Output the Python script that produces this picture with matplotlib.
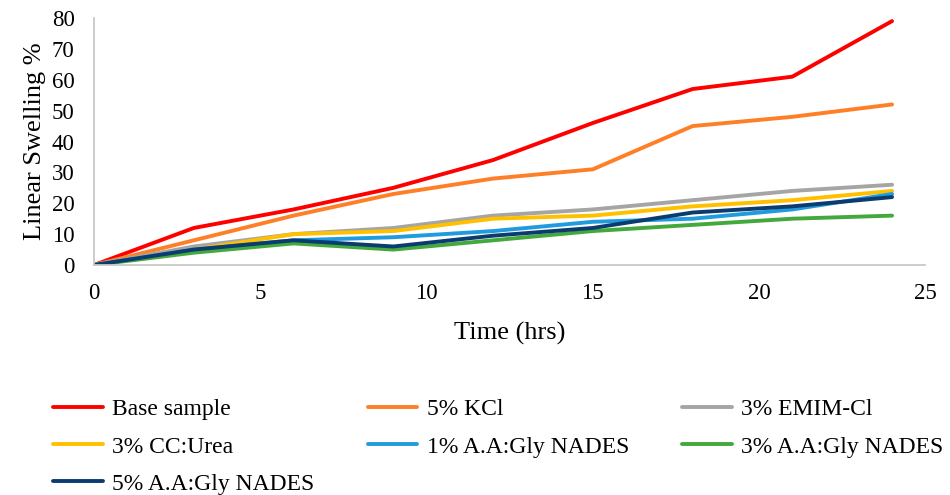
import matplotlib

matplotlib.use("Agg")
import matplotlib.pyplot as plt

plt.rcParams["font.family"] = ["Liberation Serif", "DejaVu Serif"]

# --- данные ---
hours = [0, 3, 6, 9, 12, 15, 18, 21, 24]
base_sample = [0, 12, 18, 25, 34, 46, 57, 61, 79]
kcl_5 = [0, 8, 16, 23, 28, 31, 45, 48, 52]
emim_3 = [0, 6, 10, 12, 16, 18, 21, 24, 26]
cc_urea_3 = [0, 5, 10, 11, 15, 16, 19, 21, 24]
nades_1 = [0, 5, 8, 9, 11, 14, 15, 18, 23]
nades_3 = [0, 4, 7, 5, 8, 11, 13, 15, 16]
nades_5 = [0, 5, 8, 6, 9.5, 12, 17, 19, 22]

labels = ["Base sample", "5% KCl", "3% EMIM-Cl", "3% CC:Urea",
          "1% A.A:Gly NADES", "3% A.A:Gly NADES", "5% A.A:Gly NADES"]
series = [base_sample, kcl_5, emim_3, cc_urea_3, nades_1, nades_3, nades_5]
colors = ["#ff0000", "#ff7f27", "#a5a5a5", "#ffc000",
          "#1f9bde", "#43a93c", "#0b3c70"]

fig = plt.figure(figsize=(9.5, 4.95), dpi=100, facecolor="white")
ax = fig.add_axes([0.099, 0.4646, 0.875, 0.499])

lines = []
for y, c, lab in zip(series, colors, labels):
    (ln,) = ax.plot(hours, y, color=c, lw=2.8, label=lab,
                    solid_capstyle="round", solid_joinstyle="round")
    lines.append(ln)

ax.set_xlim(0, 25)
ax.set_ylim(0, 80)
ax.set_xticks(range(0, 26, 5))
ax.set_yticks(range(0, 81, 10))
ax.tick_params(length=0, labelsize=16.5, colors="black")
ax.tick_params(axis="x", pad=13)
ax.tick_params(axis="y", pad=14)
for side in ("top", "right"):
    ax.spines[side].set_visible(False)
for side in ("left", "bottom"):
    ax.spines[side].set_color("#c8c8c8")
    ax.spines[side].set_linewidth(1.3)

ax.set_xlabel("Time (hrs)", fontsize=19, labelpad=13)
ax.set_ylabel("Linear Swelling %", fontsize=19, labelpad=4)

# легенда: три столбца с равным шагом, строки слева направо
col_x = [0.056, 0.387, 0.718]
for col in range(3):
    idx = list(range(col, len(labels), 3))
    fig.legend([lines[i] for i in idx], [labels[i] for i in idx],
               loc="upper left", bbox_to_anchor=(col_x[col], 0.194), ncol=1,
               frameon=False, fontsize=17, handlelength=2.1, handletextpad=0.4,
               labelspacing=0.66, borderaxespad=0, borderpad=0)

fig.savefig("out.png", dpi=100, facecolor="white")
